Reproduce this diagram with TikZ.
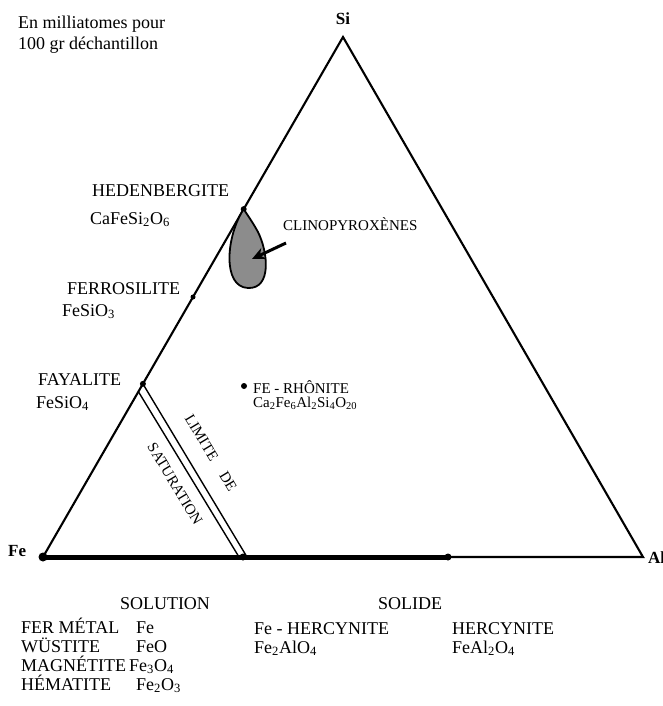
\documentclass[tikz,border=0pt]{standalone}
\usepackage{fontspec}
\setmainfont{Liberation Serif}
\usetikzlibrary{arrows.meta,calc}
\newcommand{\sbs}[1]{\textsubscript{#1}}
\begin{document}
\begin{tikzpicture}[x=1pt,y=-1pt,
  lab/.style={font=\fontsize{18}{22}\selectfont, anchor=base west, inner sep=0pt},
  small/.style={font=\fontsize{15}{18}\selectfont, inner sep=0pt},
  head/.style={font=\fontsize{18}{21}\selectfont, anchor=base west, inner sep=0pt, align=left},
  vert/.style={font=\fontsize{17}{19}\selectfont\bfseries, inner sep=0pt},
  edge/.style={line width=2.1pt},
  dotp/.style={circle, fill=black, inner sep=0pt, minimum size=#1},
  dotp/.default=6pt]
\useasboundingbox (0,0) rectangle (663,706);
\coordinate (Fe) at (43,557);
\coordinate (Si) at (343,37);
\coordinate (Al) at (643,557);
\coordinate (B1) at (243,557);
\coordinate (B2) at (448,557);
% triangle
\draw[edge, line join=miter] (Fe) -- (Si) -- (Al) -- cycle;
\draw[line width=5pt] (Fe) -- (B2);
\node[dotp=9pt] (feD) at (Fe) {};
\node[dotp=7pt] (b1D) at (B1) {};
\node[dotp=7pt] (b2D) at (B2) {};
% points on Fe-Si edge
\node[dotp=6pt] (hedD) at ($(Fe)!0.669!(Si)$) {};
\node[dotp=5pt] (ferD) at ($(Fe)!0.5!(Si)$) {};
\node[dotp=6pt] (fayD) at ($(Fe)!0.333!(Si)$) {};
\coordinate (fayL) at ($(Fe)!0.318!(Si)$);
% saturation lines
\coordinate (s1) at (247,557);
\coordinate (s2) at (239,557);
\draw[line width=1.4pt] (fayD.center) -- (s1);
\draw[line width=1.4pt] (fayL) -- (s2);
\node[small, rotate=-59] (lim) at (211,453) {LIMITE\hspace{16pt}DE};
\node[small, rotate=-59] (sat) at (175,484) {SATURATION};
% clinopyroxene field
\coordinate (bt) at ($(Fe)!0.669!(Si)$);
\draw[line width=1.8pt, fill=black!45] (bt) .. controls (226,236) and (222,287) .. (248,288)
  .. controls (272,289) and (268,252) .. (258,232)
  .. controls (252,221) and (246,213) .. (bt) -- cycle;
\coordinate (arT) at (286,243);
\coordinate (arH) at (252,259);
\draw[line width=3pt, -{Stealth[length=13pt,width=12pt]}] (arT) -- (arH);
\node[small, anchor=base west] (cpx) at (283,230) {CLINOPYROXÈNES};
% Fe-rhonite
\node[dotp=6pt] (rhD) at (244,386) {};
\node[small, anchor=base west] (rh) at (253,393) {FE - RHÔNITE};
\node[small, anchor=base west] (rhf) at (253,407) {Ca\sbs{2}Fe\sbs{6}Al\sbs{2}Si\sbs{4}O\sbs{20}};
% vertices
\node[vert, anchor=base] (si) at (343,25) {Si};
\node[vert, anchor=base west] (fe) at (8,556) {Fe};
\node[vert, anchor=base west] (al) at (648,563) {Al};
% header
\node[head] (h1) at (18,29) {En milliatomes pour};
\node[head] (h2) at (18,50) {100 gr déchantillon};
% left labels
\node[lab] (hed) at (92,196) {HEDENBERGITE};
\node[lab] (hedf) at (90,224) {CaFeSi\sbs{2}O\sbs{6}};
\node[lab] (fer) at (67,294) {FERROSILITE};
\node[lab] (ferf) at (62,316) {FeSiO\sbs{3}};
\node[lab] (fay) at (38,385) {FAYALITE};
\node[lab] (fayf) at (36,408) {FeSiO\sbs{4}};
% bottom
\node[lab, anchor=base] (sol) at (165,609) {SOLUTION};
\node[lab, anchor=base] (sod) at (410,609) {SOLIDE};
\node[lab] (m1) at (21,633) {FER MÉTAL};
\node[lab] (m1f) at (136,633) {Fe};
\node[lab] (m2) at (21,652) {WÜSTITE};
\node[lab] (m2f) at (136,652) {FeO};
\node[lab] (m3) at (21,671) {MAGNÉTITE};
\node[lab] (m3f) at (129,671) {Fe\sbs{3}O\sbs{4}};
\node[lab] (m4) at (21,690) {HÉMATITE};
\node[lab] (m4f) at (136,690) {Fe\sbs{2}O\sbs{3}};
\node[lab] (fh) at (254,634) {Fe - HERCYNITE};
\node[lab] (fhf) at (254,653) {Fe\sbs{2}AlO\sbs{4}};
\node[lab] (hc) at (452,634) {HERCYNITE};
\node[lab] (hcf) at (452,653) {FeAl\sbs{2}O\sbs{4}};
\end{tikzpicture}
\end{document}
